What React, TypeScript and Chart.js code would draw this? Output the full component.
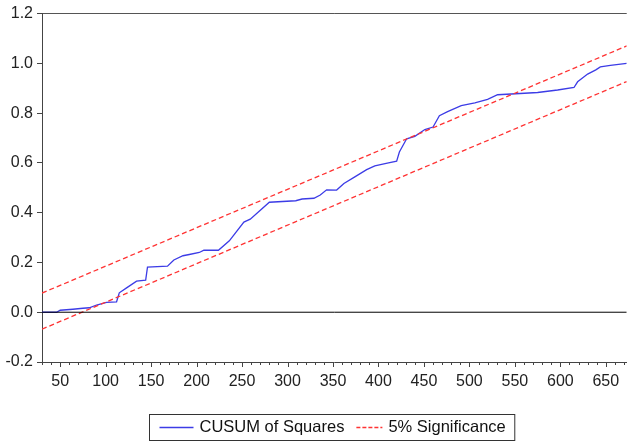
import React, { useEffect, useRef } from "react";
import { Chart, registerables } from "chart.js";

Chart.register(...registerables);

// CUSUM of squares series (x = observation, y = statistic)
const cusumX = [30, 46, 50, 64, 75, 82, 90, 101, 112, 115, 123, 134, 144, 146, 168, 175, 185, 192, 203, 208, 224, 236, 252, 259, 280, 309, 316, 329, 336, 343, 354, 362, 374, 387, 396, 411, 420, 423, 431, 440, 451, 460, 467, 476, 491, 506, 520, 531, 546, 575, 597, 615, 619, 630, 639, 644, 655, 673];
const cusumY = [0.0, 0.0, 0.008, 0.012, 0.016, 0.018, 0.029, 0.04, 0.042, 0.078, 0.098, 0.125, 0.129, 0.181, 0.185, 0.21, 0.227, 0.232, 0.24, 0.249, 0.249, 0.287, 0.362, 0.374, 0.442, 0.448, 0.455, 0.458, 0.471, 0.492, 0.491, 0.517, 0.544, 0.573, 0.588, 0.6, 0.607, 0.644, 0.697, 0.707, 0.734, 0.744, 0.79, 0.806, 0.83, 0.841, 0.855, 0.874, 0.877, 0.883, 0.893, 0.903, 0.926, 0.957, 0.974, 0.986, 0.992, 1.0];

// 5% significance bounds (straight lines, endpoints)
const boundX = [30, 673];
const upperY = [0.077, 1.07];
const lowerY = [-0.068, 0.927];

const zeroX = [30, 673];
const zeroY = [0, 0];

const seriesLabels = ["CUSUM of Squares", "5% Significance"];
const xMin = 30;
const xMax = 673;
const yMin = -0.2;
const yMax = 1.2;

const FONT = "'Liberation Sans', Arial, sans-serif";

const pts = (xs: number[], ys: number[]) => xs.map((x, i) => ({ x, y: ys[i] }));

const customPlugin = {
  id: "customDecor",
  afterDraw(chart: any) {
    const ctx = chart.ctx;
    const area = chart.chartArea;
    const xs = chart.scales.x;
    ctx.save();
    // x ticks (major every 50, minor every 10)
    ctx.strokeStyle = "#444";
    ctx.lineWidth = 1;
    xs.ticks.forEach((t: any) => {
      const px = Math.round(xs.getPixelForValue(t.value)) + 0.5;
      const len = t.value % 50 === 0 ? 5 : 3;
      ctx.beginPath();
      ctx.moveTo(px, area.bottom);
      ctx.lineTo(px, area.bottom + len);
      ctx.stroke();
    });
    // legend box
    ctx.font = `16.5px ${FONT}`;
    ctx.textBaseline = "middle";
    const w1 = ctx.measureText(seriesLabels[0]).width;
    const w2 = ctx.measureText(seriesLabels[1]).width;
    const padL = 10, line1 = 34, gap = 6, mid = 12, line2 = 26, padR = 9;
    const boxW = padL + line1 + gap + w1 + mid + line2 + gap + w2 + padR;
    const cx = (area.left + area.right) / 2 - 3;
    const left = Math.round(cx - boxW / 2) + 0.5;
    const top = 414.5;
    const h = 26;
    ctx.strokeStyle = "#333";
    ctx.lineWidth = 1;
    ctx.strokeRect(left, top, boxW, h);
    const cy = top + h / 2;
    let x = left + padL;
    ctx.strokeStyle = "#3c3ce6";
    ctx.lineWidth = 1.3;
    ctx.beginPath();
    ctx.moveTo(x, cy);
    ctx.lineTo(x + line1, cy);
    ctx.stroke();
    x += line1 + gap;
    ctx.fillStyle = "#111";
    ctx.fillText(seriesLabels[0], x, cy);
    x += w1 + mid;
    ctx.strokeStyle = "#ff3333";
    ctx.setLineDash([4, 2]);
    ctx.beginPath();
    ctx.moveTo(x, cy);
    ctx.lineTo(x + line2, cy);
    ctx.stroke();
    ctx.setLineDash([]);
    x += line2 + gap;
    ctx.fillText(seriesLabels[1], x, cy);
    ctx.restore();
  },
};

export default function App() {
  const ref = useRef<HTMLCanvasElement | null>(null);
  useEffect(() => {
    document.body.style.margin = "0";
    if (!ref.current) return;
    const chart = new Chart(ref.current, {
      type: "line",
      data: {
        datasets: [
          {
            label: "zero",
            data: pts(zeroX, zeroY),
            borderColor: "#000",
            borderWidth: 1,
            pointRadius: 0,
          },
          {
            label: seriesLabels[1] + " upper",
            data: pts(boundX, upperY),
            borderColor: "#ff3333",
            borderWidth: 1.3,
            borderDash: [5, 3],
            pointRadius: 0,
          },
          {
            label: seriesLabels[1] + " lower",
            data: pts(boundX, lowerY),
            borderColor: "#ff3333",
            borderWidth: 1.3,
            borderDash: [5, 3],
            pointRadius: 0,
          },
          {
            label: seriesLabels[0],
            data: pts(cusumX, cusumY),
            borderColor: "#3c3ce6",
            borderWidth: 1.3,
            pointRadius: 0,
            tension: 0,
          },
        ],
      },
      options: {
        animation: false,
        responsive: true,
        maintainAspectRatio: false,
        layout: { padding: { top: 10, right: 0, left: 0, bottom: 0 } },
        plugins: {
          legend: { display: false },
          tooltip: { enabled: false },
        },
        scales: {
          x: {
            type: "linear",
            min: xMin,
            max: xMax,
            border: { display: true, color: "#444", width: 1 },
            grid: {
              display: true,
              drawOnChartArea: false,
              drawTicks: true,
              tickLength: 5,
              tickColor: "transparent",
            },
            ticks: {
              stepSize: 10,
              includeBounds: false,
              autoSkip: false,
              maxRotation: 0,
              padding: 5,
              color: "#222",
              font: { family: FONT, size: 16 },
              callback: (v: any) => (Number(v) % 50 === 0 ? String(v) : ""),
            },
            afterFit: (s: any) => {
              s.height = 80;
            },
          },
          y: {
            min: yMin,
            max: yMax,
            border: { display: true, color: "#444", width: 1 },
            grid: {
              drawOnChartArea: true,
              drawTicks: true,
              tickLength: 5,
              tickColor: "#444",
              color: (c: any) =>
                c.tick && Math.abs(c.tick.value - 1.2) < 1e-6 ? "#555" : "transparent",
            },
            ticks: {
              stepSize: 0.2,
              padding: 4,
              color: "#222",
              font: { family: FONT, size: 16 },
              callback: (v: any) => {
                const n = Number(v);
                return Math.abs(n) < 1e-9 ? "0.0" : n.toFixed(1);
              },
            },
            afterFit: (s: any) => {
              s.width = 42;
            },
          },
        },
      },
      plugins: [customPlugin],
    });
    return () => chart.destroy();
  }, []);
  return (
    <div style={{ width: 629, height: 442, position: "relative" }}>
      <canvas ref={ref} />
    </div>
  );
}
